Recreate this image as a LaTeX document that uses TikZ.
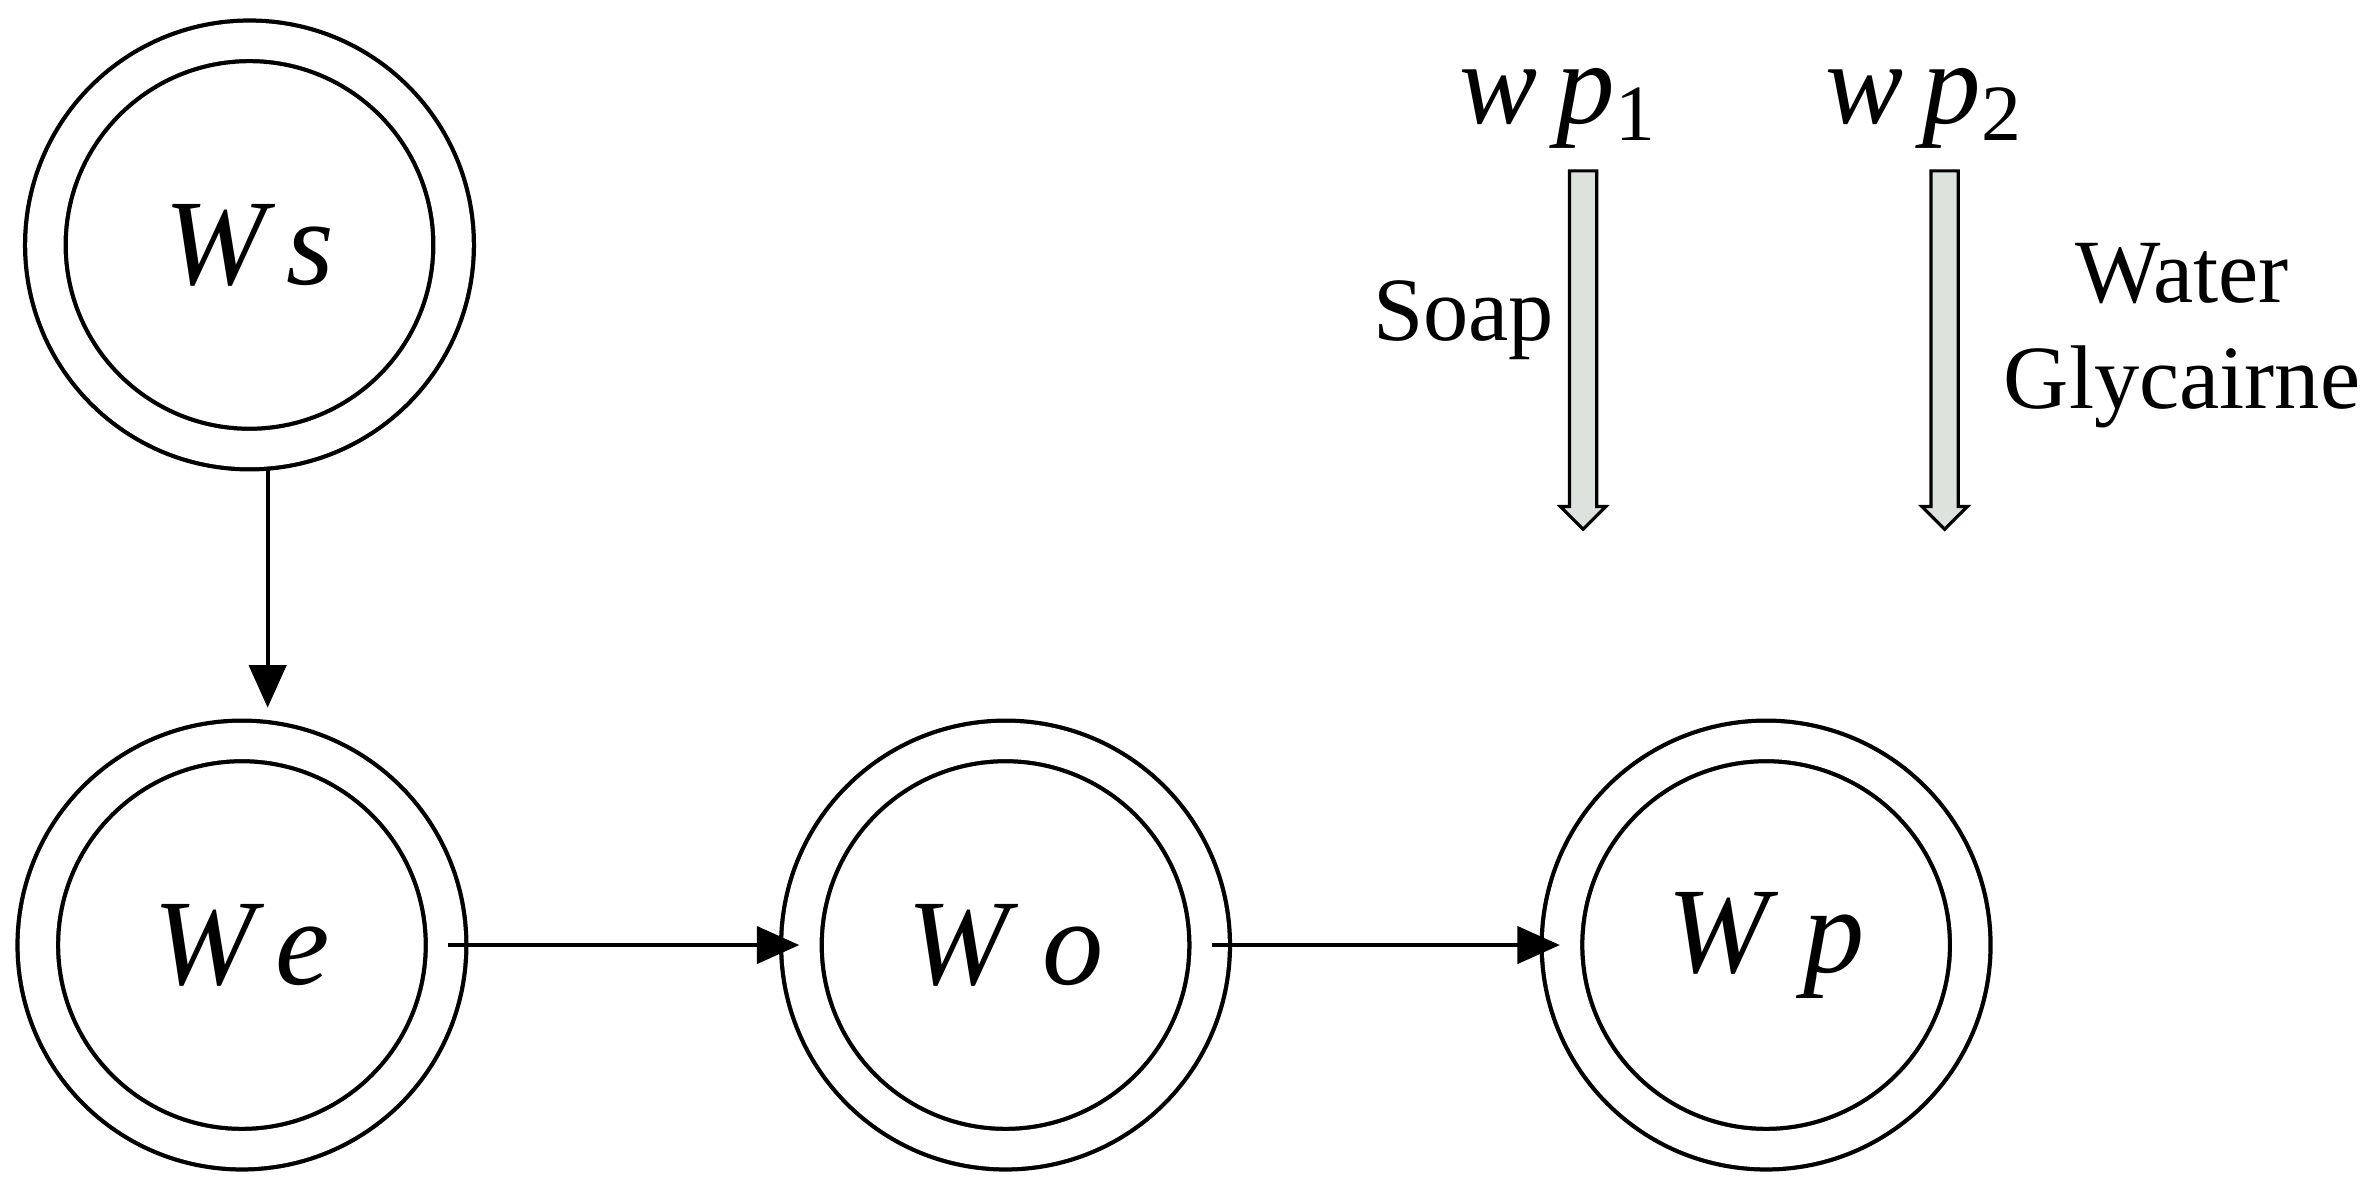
\documentclass[tikz,border=0pt]{standalone}
\usepackage{fontspec}
\setmainfont{Liberation Serif}
\usetikzlibrary{arrows.meta}
\begin{document}
\begin{tikzpicture}[x=0.01cm,y=-0.01cm,
  st/.style={circle,draw,line width=0.8pt,minimum size=270*0.01cm,double distance=24*0.01cm,font=\fontsize{23}{28}\selectfont\itshape},
  ar/.style={-{Triangle[length=8pt,width=7pt]},line width=0.7pt},
  fat/.style={draw,fill=green!10!gray!25,line width=0.6pt},
  lab/.style={font=\fontsize{17}{20}\selectfont,align=center}]
\useasboundingbox (0,0) rectangle (1568,786);
\node[st] (ws) at (165,162) {W\,s};
\node[st] (we) at (160,625) {W\,e};
\node[st] (wo) at (665,625) {W\;o};
\node[st] (wp) at (1168,625) {W\;p};
\draw[ar] (177,310) coordinate (a1) -- (177,468) coordinate (a2);
\draw[ar] (we.east) -- (wo.west);
\draw[ar] (wo.east) -- (wp.west);
\foreach \n/\x in {f1/1047,f2/1286}{
  \draw[fat] (\x-9,113) -- (\x+9,113) -- (\x+9,335) -- (\x+15,335) -- (\x,350) -- (\x-15,335) -- (\x-9,335) -- cycle;
  \coordinate (\n) at (\x,232);
}
\node[font=\fontsize{22}{26}\selectfont] (p1) at (1030,72) {\textit{w\,p}\raisebox{-0.3ex}{\fontsize{15}{18}\selectfont 1}};
\node[font=\fontsize{22}{26}\selectfont] (p2) at (1272,72) {\textit{w\,p}\raisebox{-0.3ex}{\fontsize{15}{18}\selectfont 2}};
\node[lab] (soap) at (968,212) {Soap};
\node[lab] (wg) at (1443,222) {Water\\Glycairne};
\end{tikzpicture}
\end{document}
